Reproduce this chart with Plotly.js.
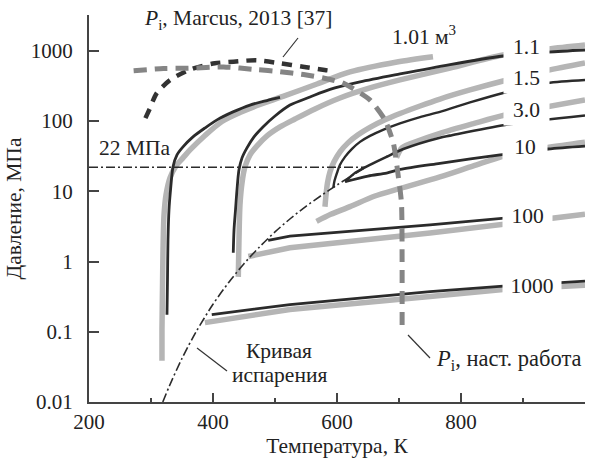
<!DOCTYPE html>
<html><head><meta charset="utf-8">
<script src="https://cdn.plot.ly/plotly-3.0.1.min.js"></script>
<style>html,body{margin:0;padding:0;background:#fff}#chart{width:590px;height:458px}</style>
</head><body><div id="chart"></div>
<script>
// ---- data (T in K, P in MPa) ----
const satT = [319, 330, 350, 373, 400, 425, 450, 475, 500, 525, 550, 575, 600, 625, 647];
const satP = [0.01, 0.0172, 0.0417, 0.101, 0.246, 0.50, 0.932, 1.61, 2.64, 4.10, 6.12, 8.75, 12.3, 16.9, 22.06];
const critT = [200, 647];
const critP = [22, 22];

const g101T = [317.7, 317.7, 318.5, 319.4, 321, 324.2, 330.6, 340.3, 351.6, 362.9, 387.1, 414.5, 443.5, 475.8, 512.9, 567.7, 621, 696.8, 754.8];
const g101P = [0.0386, 0.107, 0.395, 1.47, 4.61, 8.89, 15.5, 23.0, 29.9, 38.8, 62.4, 98.7, 132, 172, 224, 337, 500, 694, 825];
const b101T = [325.8, 326.6, 327.4, 329, 331.5, 335.5, 341.9, 351.6, 367.7, 387.1, 406.5, 432.3, 459.7, 487.1, 508.1];
const b101P = [0.175, 0.55, 2.04, 5.45, 10.5, 22.3, 33, 42.9, 59.5, 79.8, 104, 135, 169, 196, 217];

const g11T = [440.8, 441.9, 443.5, 446.8, 451.6, 459.7, 471, 487.1, 508.1, 532.3, 564.5, 604.8, 653.2, 701.6, 782.3, 867.7, 940.3, 1000];
const g11P = [0.605, 2.04, 6.41, 13.2, 22.3, 33, 44.3, 61.4, 82.4, 107, 149, 213, 296, 385, 570, 873, 1064, 1213];
const b11T = [432.7, 433.9, 436.3, 438.7, 441.9, 446.8, 454.8, 466.1, 480.6, 500, 524.2, 556.5, 588.7, 637.1, 701.6, 782.3, 867.7, 940.3, 1000];
const b11P = [1.33, 2.83, 5.45, 10.5, 20.2, 29.9, 41.5, 59.6, 82.6, 118, 169, 220, 282, 360, 468, 638, 844, 961, 1028];

const g15T = [580.6, 582.3, 584.7, 588.7, 595.2, 604.8, 617.7, 633.9, 653.2, 677.4, 701.6, 733.9, 766.1, 814.5, 871, 938.7, 1000];
const g15P = [6.01, 8.91, 13.2, 18.9, 26.3, 36.4, 48.9, 63.6, 81.2, 104, 128, 164, 206, 277, 378, 524, 670];
const b15T = [594, 596, 600, 604.8, 612.9, 624.2, 637.1, 653.2, 674.2, 701.6, 733.9, 766.1, 814.5, 871, 938.7, 1000];
const b15P = [11.2, 14.1, 18.3, 23.8, 30.9, 40.2, 50.5, 61.5, 74.9, 92.6, 114, 135, 184, 255, 348, 385];

const g30T = [696, 700, 705, 730, 766, 820, 871, 1000];
const g30P = [30, 36, 42, 52, 67, 92, 122, 200];
const b30T = [613, 630, 653, 680, 707, 766, 782, 871, 1000];
const b30P = [13.7, 18.5, 23.8, 31, 40, 58, 62, 88, 120];

const g10T = [567, 590, 621, 660, 702, 766, 820, 871, 940, 1000];
const g10P = [3.73, 4.7, 6.05, 8.5, 11, 16, 23, 32, 42, 50];
const b10T = [613, 650, 680, 702, 766, 863, 940, 1000];
const b10P = [13.7, 16.5, 18.2, 20.5, 25, 33, 40, 44];

const g100T = [457, 524, 750, 868, 1000];
const g100P = [1.18, 1.57, 2.54, 3.4, 4.7];
const b100T = [489, 524, 750, 868, 885];
const b100P = [2.0, 2.3, 3.33, 4.14, 4.25];

const g1000T = [387, 524, 750, 868, 1000];
const g1000P = [0.135, 0.207, 0.318, 0.40, 0.46];
const b1000T = [398, 524, 750, 868, 1000];
const b1000P = [0.175, 0.244, 0.374, 0.447, 0.525];

const piWorkT = [272, 320, 360, 417, 470, 508, 546, 578, 610, 653, 677, 691, 699, 704, 705, 705];
const piWorkP = [521, 560, 565, 590, 540, 505, 460, 410, 347, 200, 105, 48, 16, 6.8, 1, 0.1];
const piMarcusT = [291, 298, 309, 331, 365, 403, 433, 470, 508, 545, 580, 590];
const piMarcusP = [110, 150, 248, 385, 550, 665, 700, 735, 665, 594, 533, 520];

const xTicks = [200, 400, 600, 800];
const xMinor = [300, 500, 700, 900];
const yTicks = [0.01, 0.1, 1, 10, 100, 1000];
const yTickText = ['0.01', '0.1', '1', '10', '100', '1000'];

// ---- styling ----
const GRAY = '#b5b5b5', BLACK = '#2b2b2b', GDASH = '#858585';
const FONT = 'Liberation Serif, Times New Roman, serif';
function ln(x, y, color, width, dash, shape, smooth) {
  return {x: x, y: y, type: 'scatter', mode: 'lines', hoverinfo: 'skip',
    line: {color: color, width: width, dash: dash || 'solid', shape: shape || 'spline', smoothing: smooth || 0.8}};
}
const traces = [
  ln(g101T, g101P, GRAY, 5.5), ln(g11T, g11P, GRAY, 5.5), ln(g15T, g15P, GRAY, 5.5),
  ln(g30T, g30P, GRAY, 5.5), ln(g10T, g10P, GRAY, 5.5), ln(g100T, g100P, GRAY, 5.5, 'solid', 'linear'),
  ln(g1000T, g1000P, GRAY, 5.5, 'solid', 'linear'),
  ln(b101T, b101P, BLACK, 2.8), ln(b11T, b11P, BLACK, 2.8), ln(b15T, b15P, BLACK, 2.4),
  ln(b30T, b30P, BLACK, 2.6), ln(b10T, b10P, BLACK, 2.8), ln(b100T, b100P, BLACK, 2.8, 'solid', 'linear'),
  ln(b1000T, b1000P, BLACK, 2.8, 'solid', 'linear'),
  ln(satT, satP, BLACK, 1.6, '9px,3px,2px,3px'),
  ln(critT, critP, BLACK, 1.6, '9px,3px,2px,3px', 'linear'),
  ln(piMarcusT, piMarcusP, '#333', 4.5, '10px,8px', 'spline', 0.7),
  ln(piWorkT, piWorkP, GDASH, 5, '13px,8px', 'spline', 0.6)
];

// ---- pixel helpers for labels (plot area: x 89..585, y 15..402) ----
const L = 89, R = 585, TOP = 15, BOT = 402;
const px = v => (v - L) / (R - L);
const py = v => (BOT - v) / (BOT - TOP);
const f = {family: FONT, size: 21, color: '#222'};
const fa = {family: FONT, size: 21.5, color: '#222'};
function txt(x, y, text, extra) {
  return Object.assign({xref: 'paper', yref: 'paper', x: px(x), y: py(y), text: text,
    showarrow: false, xanchor: 'center', yanchor: 'middle', font: fa}, extra || {});
}
const boxed = w => ({bgcolor: '#ffffff', width: w, height: 30, borderpad: 0});
const annotations = [
  txt(238, 20, '<i>P</i><sub>i</sub>, Marcus, 2013 [37]'),
  txt(424, 36, '1.01 м<sup>3</sup>'),
  txt(526, 47, '1.1', boxed(45)),
  txt(526, 78, '1.5', boxed(45)),
  txt(526, 110, '3.0', boxed(45)),
  txt(525, 147, '10', boxed(44)),
  txt(527, 216, '100', boxed(49)),
  txt(532, 286, '1000', boxed(58)),
  txt(135, 148, '22 МПа'),
  txt(279, 351, 'Кривая'),
  txt(279, 375, 'испарения'),
  txt(509, 360, '<i>P</i><sub>i</sub>, наст. работа', {font: {family: FONT, size: 22.5, color: '#222'}})
];
function seg(x0, y0, x1, y1) {
  return {type: 'line', xref: 'paper', yref: 'paper', x0: px(x0), y0: py(y0), x1: px(x1), y1: py(y1),
    line: {color: '#333', width: 1.2}};
}
const shapes = [seg(298, 38, 283, 57), seg(197, 348, 227, 371), seg(408, 335, 430, 358)];

const layout = {
  width: 590, height: 458,
  margin: {l: 89, r: 5, t: 15, b: 56},
  paper_bgcolor: '#fff', plot_bgcolor: '#fff',
  showlegend: false,
  font: f,
  xaxis: {
    range: [200, 1000], tickvals: xTicks, ticks: 'inside', ticklen: 9, tickwidth: 2, tickcolor: '#444',
    showline: true, linecolor: '#444', linewidth: 2, showgrid: false, zeroline: false,
    tickfont: f,
    minor: {tickvals: xMinor, ticks: 'inside', ticklen: 4, tickwidth: 2, tickcolor: '#444', showgrid: false},
    title: {text: 'Температура, К', font: fa, standoff: 6}
  },
  yaxis: {
    type: 'log', range: [-2, 3.51], tickvals: yTicks, ticktext: yTickText,
    ticks: 'inside', ticklen: 10, tickwidth: 2, tickcolor: '#444',
    showline: true, linecolor: '#444', linewidth: 2, showgrid: false, zeroline: false,
    tickfont: f, ticklabelstandoff: 10,
    title: {text: 'Давление, МПа', font: fa, standoff: 3}
  },
  annotations: annotations,
  shapes: shapes
};
Plotly.newPlot('chart', traces, layout, {staticPlot: true, displayModeBar: false});
</script></body></html>
